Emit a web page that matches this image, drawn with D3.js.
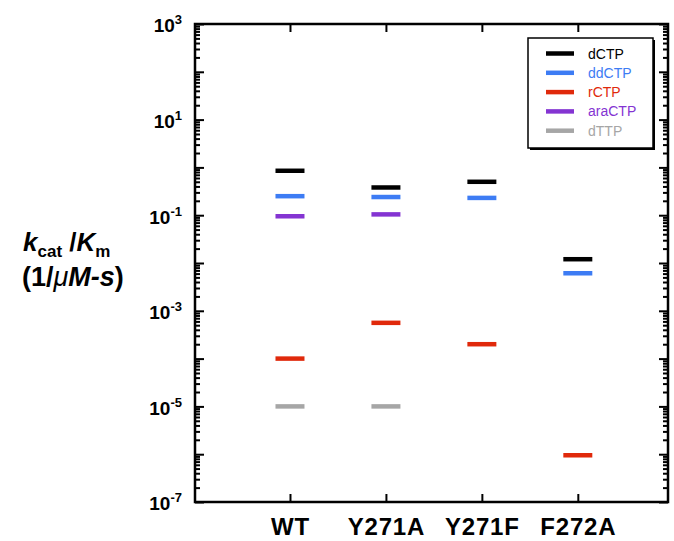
<!DOCTYPE html>
<html>
<head>
<meta charset="utf-8">
<title>kcat/Km</title>
<style>
  body { margin: 0; background: #fff; }
  svg { font-family: "Liberation Sans", Arial, Helvetica, sans-serif; }
</style>
</head>
<body>
<script src="https://cdn.jsdelivr.net/npm/d3@7"></script>
<script>
// categories and values
const groups = ["WT", "Y271A", "Y271F", "F272A"]
const dCTP   = [0.85, 0.38, 0.50, 0.012]
const ddCTP  = [0.25, 0.24, 0.23, 0.0061]
const rCTP   = [1.0e-4, 5.6e-4, 2.0e-4, 9.5e-7]
const araCTP = [0.095, 0.104, null, null]
const dTTP   = [1e-5, 1e-5, null, null]
const seriesNames = ["dCTP", "ddCTP", "rCTP", "araCTP", "dTTP"]
const seriesColors = ["#000000", "#3d7cf4", "#e0290b", "#8434d2", "#a6a6a6"]
const yExponents = d3.range(-7, 4)

const series = [dCTP, ddCTP, rCTP, araCTP, dTTP].map((vals, i) => ({
  name: seriesNames[i], color: seriesColors[i], vals
}))

const width = 674, height = 541
const pLeft = 195, pRight = 668, pTop = 24, pBottom = 502

const svg = d3.select("body").append("svg")
  .attr("width", width).attr("height", height)

// categories sit at 1..4, a little less room on the right than on the left
const x = d3.scaleLinear().domain([0.01, 4.94]).range([pLeft, pRight])
const y = d3.scaleLog().domain([1e-7, 1e3]).range([pBottom, pTop])

// minor / major tick values
const majors = yExponents.map(e => Math.pow(10, e))
const minors = []
yExponents.slice(0, -1).forEach(e => {
  for (let k = 2; k <= 9; k++) minors.push(k * Math.pow(10, e))
})

const styleAxis = g => {
  g.select(".domain").remove()
  g.selectAll(".tick line").attr("stroke", "#000").attr("stroke-width", 2)
}

// left axis: minor, then major with labels
svg.append("g").attr("transform", `translate(${pLeft},0)`)
  .call(d3.axisLeft(y).tickValues(minors).tickSize(-5).tickFormat(""))
  .call(styleAxis)
const yl = svg.append("g").attr("transform", `translate(${pLeft},0)`)
  .call(d3.axisLeft(y).tickValues(majors).tickSize(-9).tickPadding(13).tickFormat(""))
  .call(styleAxis)
yl.selectAll(".tick text").each(function(d) {
  const e = Math.round(Math.log10(d))
  if (e % 2 === 0) return
  const t = d3.select(this)
    .attr("font-size", 19).attr("font-weight", "bold").attr("fill", "#000")
    .attr("dy", "0.42em")
  t.append("tspan").text("10")
  t.append("tspan").attr("font-size", 13).attr("dy", -8).text(e)
})

// right axis
svg.append("g").attr("transform", `translate(${pRight},0)`)
  .call(d3.axisRight(y).tickValues(minors).tickSize(-5).tickFormat(""))
  .call(styleAxis)
svg.append("g").attr("transform", `translate(${pRight},0)`)
  .call(d3.axisRight(y).tickValues(majors).tickSize(-9).tickFormat(""))
  .call(styleAxis)

// bottom / top axes with category ticks
const xTicks = groups.map((g, i) => i + 1)
svg.append("g").attr("transform", `translate(0,${pBottom})`)
  .call(d3.axisBottom(x).tickValues(xTicks).tickSize(-8).tickPadding(16)
    .tickFormat((d, i) => groups[i]))
  .call(styleAxis)
  .call(g => g.selectAll(".tick text")
    .attr("font-size", 24).attr("font-weight", "bold").attr("fill", "#000")
    .attr("letter-spacing", 0.8))
svg.append("g").attr("transform", `translate(0,${pTop})`)
  .call(d3.axisTop(x).tickValues(xTicks).tickSize(-8).tickFormat(""))
  .call(styleAxis)

// frame
svg.append("rect")
  .attr("x", pLeft).attr("y", pTop)
  .attr("width", pRight - pLeft).attr("height", pBottom - pTop)
  .attr("fill", "none").attr("stroke", "#000").attr("stroke-width", 2.5)

// marks
const halfW = 14.5
series.forEach(s => {
  svg.append("g").selectAll("line")
    .data(s.vals.map((v, i) => ({ v, i })).filter(d => d.v != null))
    .join("line")
      .attr("x1", d => x(d.i + 1) - halfW)
      .attr("x2", d => x(d.i + 1) + halfW)
      .attr("y1", d => y(d.v))
      .attr("y2", d => y(d.v))
      .attr("stroke", s.color)
      .attr("stroke-width", 4.5)
})

// legend
const lg = svg.append("g").attr("transform", "translate(528,38)")
lg.append("rect").attr("x", 2).attr("y", 2).attr("width", 125).attr("height", 110)
  .attr("fill", "#000")
lg.append("rect").attr("width", 125).attr("height", 110)
  .attr("fill", "#fff").attr("stroke", "#000").attr("stroke-width", 1.5)
const rows = lg.selectAll("g.row").data(series).join("g")
  .attr("class", "row")
  .attr("transform", (d, i) => `translate(0,${15.5 + i * 19.3})`)
rows.append("line")
  .attr("x1", 18).attr("x2", 46)
  .attr("stroke", d => d.color).attr("stroke-width", 4.5)
rows.append("text")
  .attr("x", 60).attr("dy", "0.36em")
  .attr("font-size", 14)
  .attr("fill", d => d.color)
  .text(d => d.name)

// y axis title
const t1 = svg.append("text").attr("x", 23).attr("y", 251)
  .attr("font-size", 26).attr("font-weight", "bold")
t1.append("tspan").attr("font-style", "italic").text("k")
t1.append("tspan").attr("font-size", 17).attr("dy", 6).text("cat")
t1.append("tspan").attr("dy", -6).text(" /")
t1.append("tspan").attr("font-style", "italic").text("K")
t1.append("tspan").attr("font-size", 17).attr("dy", 6).text("m")

const t2 = svg.append("text").attr("x", 22).attr("y", 286)
  .attr("font-size", 27).attr("font-weight", "bold")
t2.append("tspan").text("(1/")
t2.append("tspan").attr("font-style", "italic").attr("font-weight", "normal").text("\u03bc")
t2.append("tspan").attr("font-style", "italic").text("M-s")
t2.append("tspan").text(")")
</script>
</body>
</html>
